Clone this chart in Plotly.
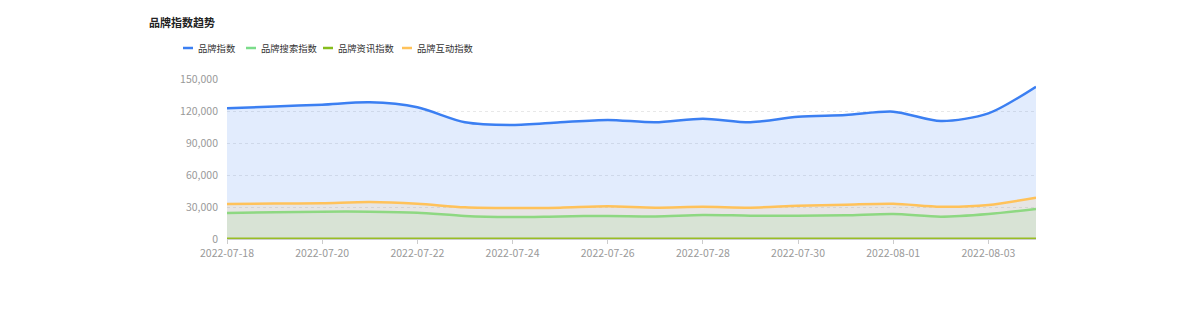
import plotly.graph_objects as go

dates = ["2022-07-18", "2022-07-19", "2022-07-20", "2022-07-21", "2022-07-22", "2022-07-23",
         "2022-07-24", "2022-07-25", "2022-07-26", "2022-07-27", "2022-07-28", "2022-07-29",
         "2022-07-30", "2022-07-31", "2022-08-01", "2022-08-02", "2022-08-03", "2022-08-04"]

brand_index = [122500, 124300, 125900, 128100, 123500, 109400, 106900, 109400, 111600,
               109400, 112800, 109400, 114700, 116200, 119400, 110600, 117800, 142800]
search_index = [24400, 25000, 25600, 25600, 24700, 21600, 20600, 21200, 21600,
                21200, 22500, 21900, 21900, 22200, 23400, 20900, 23400, 28100]
news_index = [300, 300, 300, 300, 300, 300, 300, 300, 300,
              300, 300, 300, 300, 300, 300, 300, 300, 300]
interact_index = [32800, 33200, 33600, 34700, 33100, 29700, 29000, 29400, 30600,
                  29400, 30300, 29400, 31200, 32200, 33100, 30300, 31900, 38800]

series_names = ["品牌指数", "品牌搜索指数", "品牌资讯指数", "品牌互动指数"]
series_values = [brand_index, search_index, news_index, interact_index]
line_colors = ["#3b7ff2", "#7bdc8a", "#86bd1d", "#ffc25a"]
fill_colors = ["rgba(59,127,242,0.15)", "rgba(123,220,138,0.15)",
               "rgba(134,189,29,0.15)", "rgba(255,194,90,0.15)"]

y_ticks = [0, 30000, 60000, 90000, 120000, 150000]
x_ticks = dates[::2]

fig = go.Figure()
for name, vals, color, fillc in zip(series_names, series_values, line_colors, fill_colors):
    fig.add_trace(go.Scatter(
        x=dates, y=vals, name=name, mode="lines",
        line=dict(color=color, width=2.5, shape="spline", smoothing=0.8),
        fill="tozeroy", fillcolor=fillc, showlegend=False,
    ))

W, H = 1179, 314
L, R, T, B = 227, 143, 79, 75
pw, ph = W - L - R, H - T - B

def px_x(p):
    return (p - L) / pw

def px_y(p):
    return (H - B - p) / ph

font_family = "Noto Sans CJK SC, Noto Sans, sans-serif"

# custom legend (short line symbols like the reference)
legend_y = 48
legend_symbol_x = [183, 246, 323, 402]
shapes = []
annotations = [dict(
    text="<b>品牌指数趋势</b>", x=px_x(147), y=px_y(22), xref="paper", yref="paper",
    xanchor="left", yanchor="middle", showarrow=False,
    font=dict(size=11, color="#222222", family=font_family),
)]
for sx, name, color in zip(legend_symbol_x, series_names, line_colors):
    shapes.append(dict(type="line", xref="paper", yref="paper",
                       x0=px_x(sx), x1=px_x(sx + 10), y0=px_y(legend_y), y1=px_y(legend_y),
                       line=dict(color=color, width=2.5)))
    annotations.append(dict(
        text=name, x=px_x(sx + 13), y=px_y(legend_y), xref="paper", yref="paper",
        xanchor="left", yanchor="middle", showarrow=False,
        font=dict(size=9.3, color="#333333", family=font_family),
    ))

fig.update_layout(
    width=W, height=H,
    margin=dict(l=L, r=R, t=T, b=B, pad=0),
    paper_bgcolor="white", plot_bgcolor="white",
    font=dict(family=font_family, color="#999999", size=10.5),
    showlegend=False,
    shapes=shapes,
    annotations=annotations,
    xaxis=dict(
        type="date", range=[dates[0], dates[-1]],
        tickvals=x_ticks, ticktext=x_ticks,
        showgrid=False, ticks="outside", ticklen=4, tickcolor="#cccccc",
        showline=True, linecolor="#cccccc", linewidth=1,
        tickfont=dict(size=10.5, color="#999999"),
        zeroline=False,
    ),
    yaxis=dict(
        range=[0, 150000], tickvals=y_ticks,
        tickformat=",d", showgrid=True, gridcolor="#e8e8e8", griddash="dot",
        gridwidth=1, zeroline=False, showline=False, ticks="",
        tickfont=dict(size=10.5, color="#999999"),
        ticklabelstandoff=8,
    ),
)

fig.write_html("out.html")
